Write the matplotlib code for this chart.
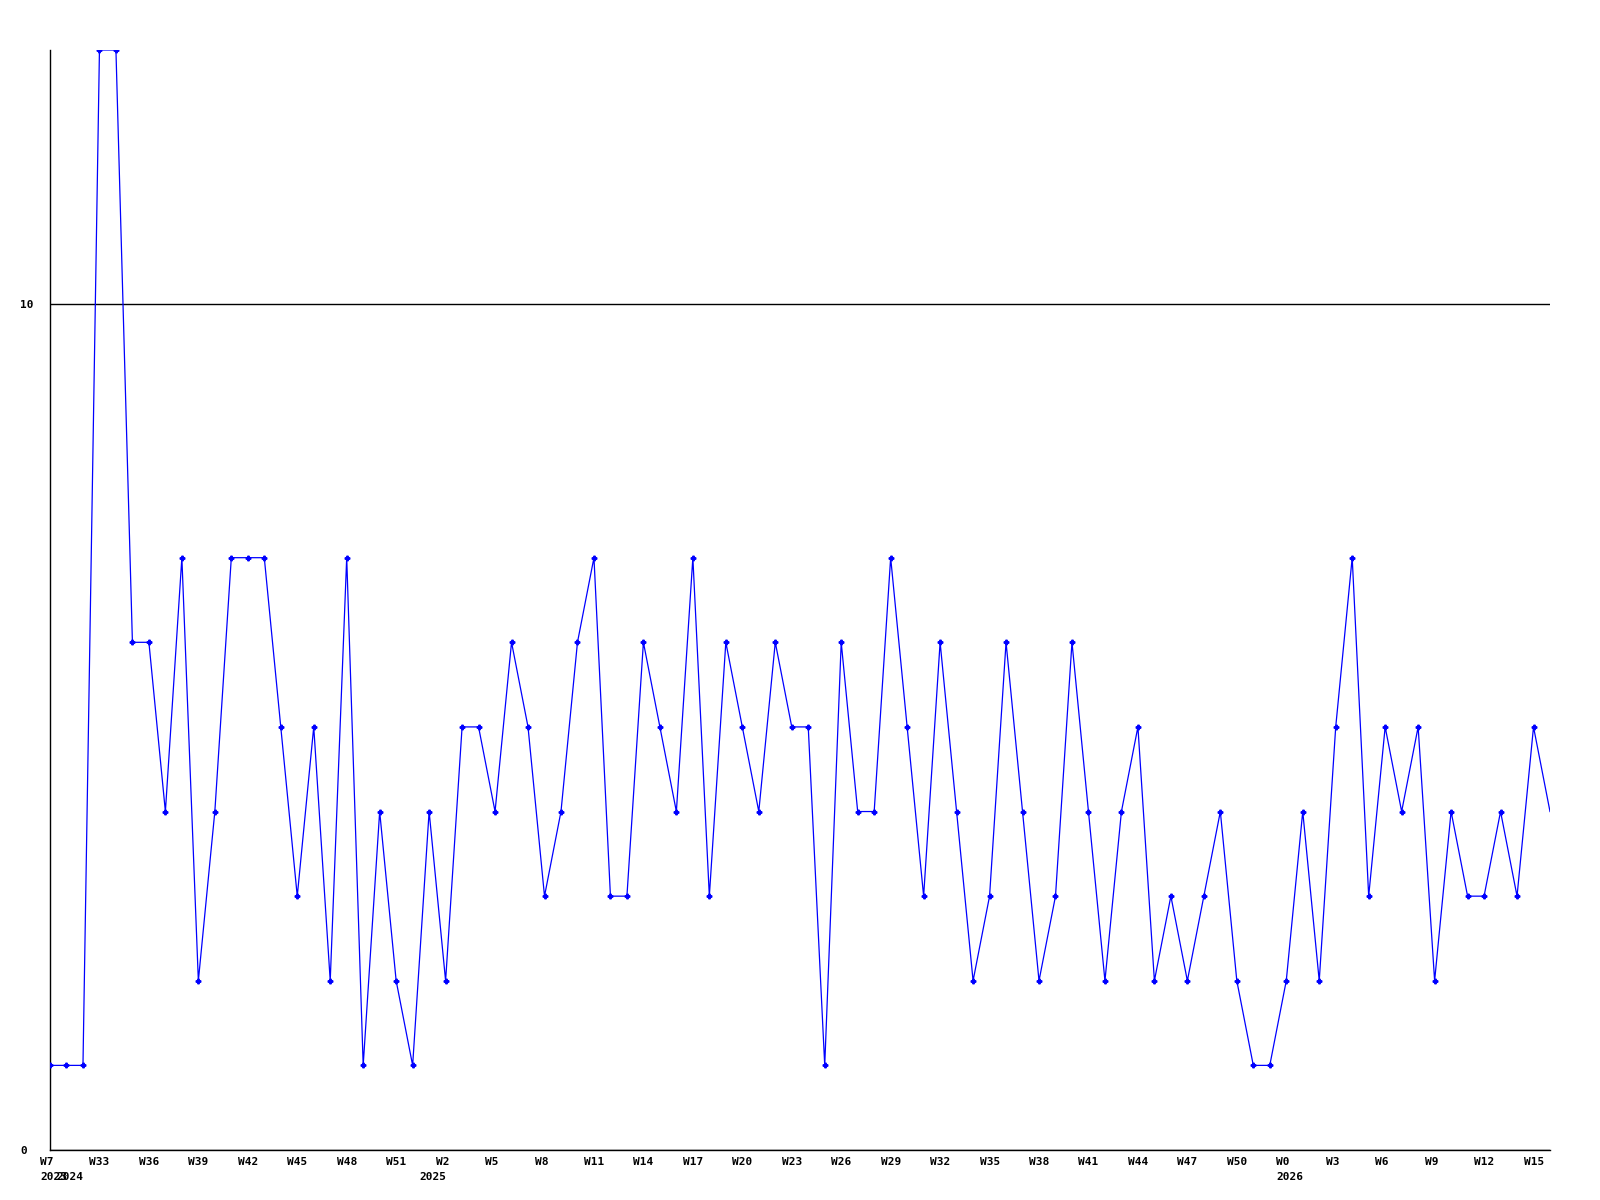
import matplotlib
matplotlib.use("Agg")
import matplotlib.pyplot as plt
import matplotlib.transforms as mtransforms

# ---- data ----
# week numbers of each point (2023 W7, then 2024 W31..W52, 2025 W1..W52, 2026 W0..W16)
weeks = [7] + list(range(31, 53)) + list(range(1, 53)) + list(range(0, 17))
year_starts = [0, 1, 23, 75]
year_labels = ["2023", "2024", "2025", "2026"]
values = [1, 1, 1, 13, 13, 6, 6, 4, 7, 2,
          4, 7, 7, 7, 5, 3, 5, 2, 7, 1,
          4, 2, 1, 4, 2, 5, 5, 4, 6, 5,
          3, 4, 6, 7, 3, 3, 6, 5, 4, 7,
          3, 6, 5, 4, 6, 5, 5, 1, 6, 4,
          4, 7, 5, 3, 6, 4, 2, 3, 6, 4,
          2, 3, 6, 4, 2, 4, 5, 2, 3, 2,
          3, 4, 2, 1, 1, 2, 4, 2, 5, 7,
          3, 5, 4, 5, 2, 4, 3, 3, 4, 3,
          5, 4]
y_ticks = [0, 10]

x = list(range(len(values)))
week_labels = ["W%d" % w for w in weeks]

fig = plt.figure(figsize=(16, 12), dpi=100)
ax = fig.add_axes([50 / 1600, 50 / 1200, 1500 / 1600, 1100 / 1200])

ax.plot(x, values, color=(0, 0, 1), lw=0.9, marker="P", markersize=3.3,
        markevery=slice(0, len(values) - 1), zorder=3)

ax.set_xlim(0, len(values) - 1)
ax.set_ylim(0, 13)

for side in ("top", "right"):
    ax.spines[side].set_visible(False)
for side in ("left", "bottom"):
    ax.spines[side].set_color("black")
    ax.spines[side].set_linewidth(1.0)

ax.set_yticks(y_ticks)
ax.set_yticklabels([str(t) for t in y_ticks], ha="left",
                   fontfamily="DejaVu Sans Mono", fontweight="bold", fontsize=8)
ax.tick_params(axis="y", length=0, pad=21.6)
ax.grid(axis="y", color="black", lw=1.0)
ax.set_axisbelow(True)

tick_idx = list(range(0, len(values), 3))
ax.set_xticks(tick_idx)
ax.set_xticklabels([week_labels[i] for i in tick_idx], ha="left",
                   fontfamily="DejaVu Sans Mono", fontweight="bold", fontsize=8)
ax.xaxis.remove_overlapping_locs = False
ax.set_xticks(year_starts, minor=True)
ax.set_xticklabels(year_labels, minor=True, ha="left",
                   fontfamily="DejaVu Sans Mono", fontweight="bold", fontsize=8)
ax.tick_params(axis="x", which="major", length=0, pad=5)
ax.tick_params(axis="x", which="minor", length=0, pad=15.6)

offset = mtransforms.ScaledTranslation(-10 / 100, 0, fig.dpi_scale_trans)
for lab in ax.get_xticklabels(which="both"):
    lab.set_transform(lab.get_transform() + offset)

fig.savefig("out.png", dpi=100, facecolor="white")
